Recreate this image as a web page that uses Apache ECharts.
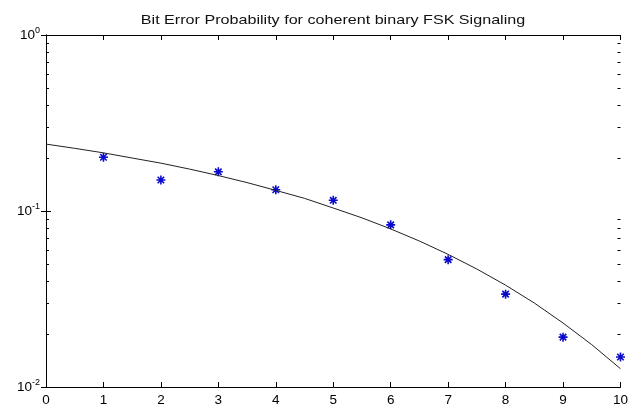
<!DOCTYPE html>
<html>
<head>
<meta charset="utf-8">
<script src="https://cdn.jsdelivr.net/npm/echarts@6/dist/echarts.min.js"></script>
<style>html,body{margin:0;padding:0;background:#fff;}#c{width:631px;height:407px;}</style>
</head>
<body>
<div id="c"></div>
<script>
// Theoretical curve (x = Eb/N0 in dB, y = probability)
const curveX = [0, 0.5, 1, 1.5, 2, 2.5, 3, 3.5, 4, 4.5, 5, 5.5, 6, 6.5, 7, 7.5, 8, 8.5, 9, 9.5, 10];
const curveY = [0.240, 0.227, 0.214, 0.200, 0.187, 0.173, 0.159, 0.145, 0.131, 0.118, 0.104, 0.0914, 0.0791, 0.0675, 0.0567, 0.0468, 0.0379, 0.0300, 0.0231, 0.0174, 0.0127];
// Simulated points
const simX = [1, 2, 3, 4, 5, 6, 7, 8, 9, 10];
const simY = [0.202, 0.150, 0.167, 0.132, 0.115, 0.0834, 0.0529, 0.0337, 0.0192, 0.0148];
// Log axis minor ticks
const minorTicks = [0.02, 0.03, 0.04, 0.05, 0.06, 0.07, 0.08, 0.09, 0.2, 0.3, 0.4, 0.5, 0.6, 0.7, 0.8, 0.9];
const titleText = 'Bit Error Probability for coherent binary FSK Signaling';

const chart = echarts.init(document.getElementById('c'), null, {renderer: 'canvas'});
const font = 'Liberation Sans, Arial, sans-serif';
const axisLineStyle = {color: '#000', width: 1};
const option = {
  backgroundColor: '#fff',
  animation: false,
  graphic: [{
    type: 'text', x: 333, y: 20, scaleX: 1.24, silent: true,
    style: {text: titleText, font: '13px Liberation Sans, Arial, sans-serif', fill: '#111',
            textAlign: 'center', textVerticalAlign: 'middle'}
  }],
  grid: {left: 46, top: 35, right: 8, bottom: 18, containLabel: false},
  xAxis: [
    {type: 'value', min: 0, max: 10, interval: 1, position: 'bottom',
     axisLine: {lineStyle: axisLineStyle}, axisTick: {inside: true, length: 5, lineStyle: axisLineStyle},
     axisLabel: {color: '#000', fontFamily: font, fontSize: 13.5, margin: 6}, splitLine: {show: false}},
    {type: 'value', min: 0, max: 10, interval: 1, position: 'top',
     axisLine: {lineStyle: axisLineStyle}, axisTick: {inside: true, length: 5, lineStyle: axisLineStyle},
     axisLabel: {show: false}, splitLine: {show: false}}
  ],
  yAxis: [
    {type: 'log', logBase: 10, min: 0.01, max: 1, position: 'left',
     axisLine: {show: true, lineStyle: axisLineStyle}, axisTick: {inside: true, length: 5, lineStyle: axisLineStyle},
     splitLine: {show: false},
     axisLabel: {
       margin: 6,
       formatter: function (v) { const e = Math.round(Math.log10(v)); return '{b|10}{s|' + e + '}'; },
       rich: {
         b: {fontFamily: font, fontSize: 13.5, color: '#000'},
         s: {fontFamily: font, fontSize: 9, color: '#000', verticalAlign: 'bottom', padding: [0, 0, 9, 0]}
       }
     }},
    {type: 'log', logBase: 10, min: 0.01, max: 1, position: 'right',
     axisLine: {show: true, lineStyle: axisLineStyle}, axisTick: {inside: true, length: 5, lineStyle: axisLineStyle},
     splitLine: {show: false}, axisLabel: {show: false}}
  ],
  series: [
    {type: 'line', name: 'theory', data: curveX.map((x, i) => [x, curveY[i]]),
     showSymbol: false, symbol: 'none', lineStyle: {color: '#222', width: 1}, silent: true},
    {type: 'scatter', name: 'sim', data: simX.map((x, i) => [x, simY[i]]),
     symbol: 'path://M0,-5L0,5M-5,0L5,0M-3.6,-3.6L3.6,3.6M-3.6,3.6L3.6,-3.6',
     symbolSize: 9,
     itemStyle: {color: 'none', borderColor: '#0a0acc', borderWidth: 1.6, opacity: 1},
     silent: true, clip: false},
    {type: 'custom', name: 'minor', silent: true, clip: false,
     data: minorTicks.map(v => [0, v]),
     renderItem: function (params, api) {
       const y = Math.round(api.coord([0, api.value(1)])[1]) + 0.5;
       const cs = params.coordSys;
       return {type: 'group', children: [
         {type: 'line', shape: {x1: cs.x, y1: y, x2: cs.x + 3, y2: y}, style: {stroke: '#000', lineWidth: 1}},
         {type: 'line', shape: {x1: cs.x + cs.width - 3, y1: y, x2: cs.x + cs.width, y2: y}, style: {stroke: '#000', lineWidth: 1}}
       ]};
     }}
  ]
};
chart.setOption(option);
</script>
</body>
</html>
